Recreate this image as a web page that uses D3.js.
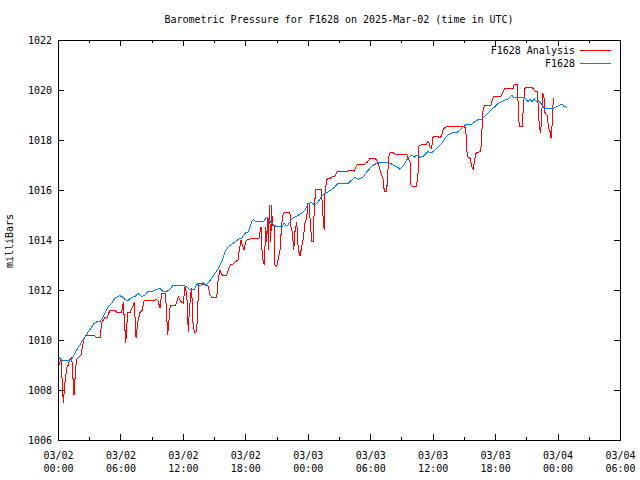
<!DOCTYPE html>
<html><head><meta charset="utf-8">
<script src="https://cdn.jsdelivr.net/npm/d3@7"></script>
<style>
body{margin:0;background:#fff;}
text{font-family:"DejaVu Sans Mono",monospace;font-size:10px;fill:#000;}
</style></head>
<body><svg id="c" width="640" height="480"></svg>
<script>
const titleText = "Barometric Pressure for F1628 on 2025-Mar-02 (time in UTC)";
const yLabel = "milliBars";
const seriesNames = ["F1628 Analysis", "F1628"];
const seriesColors = ["#ff0000", "#0080ff"];
const yTicks = [1006,1008,1010,1012,1014,1016,1018,1020,1022];
const startTime = "2025-03-02T00:00:00Z";
const endTime = "2025-03-04T06:00:00Z";

// hours since start, pressure (mb)
const redHours = [0.10,0.29,0.51,0.67,0.84,0.99,1.15,1.32,1.54,1.70,1.80,1.95,2.21,2.33,2.53,2.76,3.46,3.72,4.04,4.20,4.35,4.52,4.68,4.90,5.00,5.48,5.64,6.12,6.27,6.51,6.70,6.92,7.24,7.33,7.50,7.66,7.88,8.10,8.29,9.32,9.48,9.64,9.80,9.96,10.28,10.38,10.54,10.67,10.79,11.31,11.56,11.82,12.04,12.20,12.37,12.52,12.62,12.78,12.85,12.94,13.10,13.33,13.42,13.55,14.13,14.44,14.61,14.77,15.25,15.40,15.57,15.66,15.79,16.21,16.36,16.62,16.84,17.01,17.33,17.39,17.58,17.71,17.87,18.04,18.13,18.77,19.31,19.41,19.51,19.63,19.82,19.96,20.05,20.15,20.21,20.30,20.44,20.53,20.59,20.78,20.85,21.01,21.17,21.33,21.50,21.65,21.81,22.20,22.29,22.39,22.51,22.65,22.77,22.94,23.09,23.25,23.42,23.57,23.73,23.90,23.99,24.12,24.24,24.38,24.53,24.63,24.79,25.27,25.40,25.49,25.59,25.66,25.82,26.14,26.36,26.62,26.88,27.89,28.22,28.47,28.70,29.50,29.76,29.98,30.46,30.72,30.84,31.04,31.26,31.35,31.58,31.68,31.81,31.90,32.22,32.38,33.51,33.60,33.82,33.89,34.04,34.47,34.56,34.64,34.69,34.88,35.43,35.52,35.65,35.74,35.91,36.00,36.06,36.54,36.71,36.87,37.02,37.19,37.67,39.04,39.18,39.27,39.37,39.59,39.75,39.91,40.00,40.14,40.55,40.71,40.77,40.87,41.03,41.61,41.73,41.92,42.57,42.79,42.95,43.75,43.84,44.13,44.23,44.32,44.61,44.71,44.87,45.04,45.52,45.67,45.84,46.06,46.15,46.25,46.38,46.48,46.57,46.70,46.80,46.96,47.05,47.11,47.28,47.37,47.50,47.59];
const redValues = [1009.0,1009.24,1007.48,1008.3,1008.9,1009.0,1009.24,1009.3,1007.8,1008.9,1009.24,1009.3,1009.4,1009.7,1010.1,1010.2,1010.2,1010.1,1010.1,1010.7,1010.8,1010.9,1010.85,1011.1,1011.2,1011.2,1011.1,1011.1,1011.5,1009.9,1011.1,1011.1,1011.4,1011.5,1010.1,1010.7,1011.1,1011.2,1011.6,1011.6,1011.63,1011.53,1011.27,1011.87,1011.87,1011.48,1010.2,1010.8,1011.4,1011.4,1011.73,1011.53,1011.47,1012.13,1011.87,1010.33,1011.2,1011.93,1012.07,1010.8,1010.29,1010.33,1011.33,1012.27,1012.2,1012.16,1011.8,1011.71,1011.71,1012.47,1012.8,1012.67,1012.6,1012.6,1012.8,1013.04,1013.04,1013.13,1013.2,1013.53,1014.0,1013.8,1013.6,1013.93,1014.0,1014.07,1014.07,1014.33,1014.53,1013.33,1013.0,1014.53,1013.93,1014.87,1013.6,1015.4,1013.93,1015.4,1014.6,1014.6,1013.0,1012.93,1013.27,1013.6,1014.67,1015.07,1015.11,1015.11,1015.07,1014.53,1014.33,1013.6,1014.33,1014.73,1013.6,1013.36,1013.73,1014.07,1014.67,1014.87,1015.47,1015.47,1014.73,1013.93,1013.93,1015.4,1016.03,1016.03,1015.47,1014.73,1014.4,1015.93,1016.43,1016.47,1016.53,1016.56,1016.76,1016.76,1016.8,1016.76,1017.0,1017.04,1017.13,1017.27,1017.27,1017.13,1016.96,1016.67,1016.4,1015.93,1015.93,1016.67,1017.4,1017.49,1017.49,1017.44,1017.44,1017.27,1017.17,1016.2,1016.16,1016.16,1016.67,1016.7,1017.8,1017.8,1017.84,1017.93,1017.87,1017.73,1017.67,1018.07,1018.13,1018.13,1018.07,1018.2,1018.43,1018.51,1018.56,1018.53,1018.47,1017.6,1017.33,1017.27,1016.93,1016.83,1017.13,1017.47,1017.53,1017.87,1018.93,1019.27,1019.4,1019.4,1019.63,1019.76,1019.76,1019.93,1020.07,1020.07,1020.23,1020.23,1019.27,1018.53,1018.53,1019.33,1020.07,1020.11,1020.11,1020.04,1019.96,1019.93,1019.27,1018.53,1018.27,1019.07,1019.87,1019.67,1019.07,1019.03,1018.87,1018.53,1018.33,1018.07,1018.73,1019.69];

const blueHours = [0.03,0.36,1.15,1.32,1.47,1.70,1.89,2.11,2.28,2.59,2.91,3.17,3.39,3.72,4.04,4.26,4.52,4.83,5.16,5.48,5.96,6.18,6.51,6.76,7.08,7.40,7.66,8.04,8.36,8.68,9.00,9.32,9.80,10.12,10.44,10.76,11.08,11.89,12.37,12.68,13.10,13.42,13.64,13.96,14.19,14.44,14.77,15.09,15.40,15.66,15.79,16.05,16.36,16.84,17.33,17.65,17.97,18.29,18.45,18.61,18.77,19.00,19.73,20.05,20.21,20.53,21.01,21.50,21.74,21.97,22.29,22.51,22.94,23.42,23.73,24.05,24.38,24.69,25.01,25.34,25.66,25.97,26.30,26.62,26.93,27.89,28.22,28.54,28.86,29.34,29.66,29.98,30.30,30.78,31.42,31.90,32.22,32.55,32.86,33.18,33.51,33.66,33.99,34.24,34.47,34.79,35.10,35.52,35.91,36.23,36.54,36.87,37.19,37.50,37.89,38.31,38.63,38.95,39.27,39.75,40.07,40.39,40.71,41.03,41.35,41.67,41.99,42.31,42.63,42.95,43.27,43.60,43.75,44.71,44.94,45.13,45.35,45.52,45.77,46.00,46.15,46.48,46.73,47.59,47.91,48.24,48.46,48.65,48.88];
const blueValues = [1009.33,1009.2,1009.2,1009.24,1009.33,1009.53,1009.67,1009.8,1009.93,1010.13,1010.33,1010.47,1010.63,1010.73,1010.73,1010.87,1011.07,1011.33,1011.47,1011.69,1011.77,1011.73,1011.6,1011.6,1011.71,1011.73,1011.87,1011.73,1011.8,1011.96,1011.93,1012.0,1012.07,1011.93,1011.93,1012.03,1012.2,1012.2,1012.13,1012.0,1012.03,1012.27,1012.16,1012.29,1012.2,1012.29,1012.47,1012.67,1012.87,1013.07,1013.2,1013.53,1013.73,1013.87,1014.03,1014.07,1014.27,1014.33,1014.53,1014.73,1014.83,1014.73,1014.73,1014.91,1014.83,1014.67,1014.53,1014.53,1014.67,1014.53,1014.73,1014.87,1014.96,1015.07,1015.2,1015.47,1015.49,1015.4,1015.53,1015.76,1015.87,1015.93,1016.03,1016.13,1016.27,1016.27,1016.4,1016.51,1016.43,1016.53,1016.73,1016.87,1017.0,1017.09,1017.09,1017.07,1017.0,1016.93,1016.83,1016.96,1017.2,1017.31,1017.4,1017.31,1017.4,1017.3,1017.35,1017.53,1017.49,1017.6,1017.73,1017.87,1018.07,1018.2,1018.29,1018.29,1018.4,1018.53,1018.64,1018.64,1018.73,1018.83,1018.83,1018.96,1019.09,1019.23,1019.33,1019.47,1019.53,1019.6,1019.64,1019.8,1019.69,1019.69,1019.67,1019.53,1019.64,1019.53,1019.64,1019.53,1019.56,1019.43,1019.27,1019.27,1019.33,1019.4,1019.43,1019.33,1019.31];

const svg = d3.select("#c");
const L = 58, R = 620, T = 40, B = 440;
const t0 = new Date(startTime);
const toDate = h => new Date(t0.getTime() + h * 3600e3);

const x = d3.scaleUtc().domain([t0, new Date(endTime)]).range([L, R]);
const y = d3.scaleLinear().domain([1006, 1022]).range([B, T]);

const major = d3.utcHour.every(6).range(t0, new Date(new Date(endTime).getTime() + 1));
const minor = d3.utcHour.every(3).range(t0, new Date(new Date(endTime).getTime() + 1)).filter(d => d.getUTCHours() % 6 !== 0);

// bottom axis (major with labels)
const gx = svg.append("g").attr("transform", `translate(0,${B})`)
  .call(d3.axisBottom(x).tickValues(major).tickSize(-6).tickPadding(4).tickFormat(() => ""));
gx.selectAll(".tick text").each(function(d) {
  const t = d3.select(this);
  t.attr("y", 0).attr("dy", null);
  t.append("tspan").attr("x", 0).attr("y", 19).text(d3.utcFormat("%m/%d")(d));
  t.append("tspan").attr("x", 0).attr("y", 32).text(d3.utcFormat("%H:%M")(d));
});
svg.append("g").attr("transform", `translate(0,${B})`)
  .call(d3.axisBottom(x).tickValues(minor).tickSize(-3).tickFormat(() => ""));
svg.append("g").attr("transform", `translate(0,${T})`)
  .call(d3.axisTop(x).tickValues(major).tickSize(-6).tickFormat(() => ""));
svg.append("g").attr("transform", `translate(0,${T})`)
  .call(d3.axisTop(x).tickValues(minor).tickSize(-3).tickFormat(() => ""));

// y axes
svg.append("g").attr("transform", `translate(${L},0)`)
  .call(d3.axisLeft(y).tickValues(yTicks).tickSize(-6).tickPadding(6).tickFormat(d3.format("d")));
svg.append("g").attr("transform", `translate(${R},0)`)
  .call(d3.axisRight(y).tickValues(yTicks).tickSize(-6).tickFormat(() => ""));

svg.selectAll(".domain").remove();
svg.selectAll(".tick line").attr("stroke", "#000").attr("shape-rendering", "crispEdges");
svg.selectAll(".tick text").attr("font-family", "DejaVu Sans Mono").attr("font-size", 10).attr("fill", "#000");

// frame
svg.append("rect").attr("x", L + 0.5).attr("y", T + 0.5).attr("width", R - L).attr("height", B - T)
  .attr("fill", "none").attr("stroke", "#000").attr("shape-rendering", "crispEdges");

// lines
const line = d3.line().x(d => x(toDate(d[0]))).y(d => y(d[1]));
const redData = redHours.map((h, i) => [h, redValues[i]]);
const blueData = blueHours.map((h, i) => [h, blueValues[i]]);
svg.append("path").datum(redData).attr("d", line).attr("fill", "none")
  .attr("stroke", seriesColors[0]).attr("stroke-width", 1).attr("shape-rendering", "crispEdges");
svg.append("path").datum(blueData).attr("d", line).attr("fill", "none")
  .attr("stroke", seriesColors[1]).attr("stroke-width", 1).attr("shape-rendering", "crispEdges");

// title
svg.append("text").attr("x", 339).attr("y", 23).attr("text-anchor", "middle").text(titleText);
// y label
svg.append("text").attr("transform", "translate(13,241) rotate(-90)").attr("text-anchor", "middle").text(yLabel);

// legend
seriesNames.forEach((n, i) => {
  const yy = 50 + i * 13;
  svg.append("text").attr("x", 575).attr("y", yy + 3.5).attr("text-anchor", "end").text(n);
  svg.append("line").attr("x1", 580).attr("x2", 611).attr("y1", yy).attr("y2", yy)
    .attr("stroke", seriesColors[i]).attr("shape-rendering", "crispEdges");
});
</script></body></html>
